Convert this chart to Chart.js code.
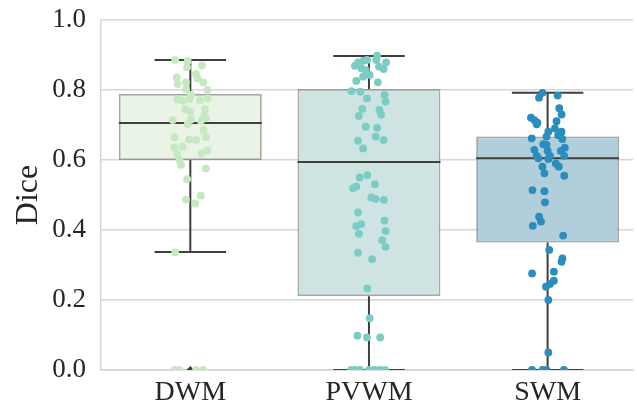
<!DOCTYPE html>
<html>
<head>
<meta charset="utf-8">
<script src="https://cdn.jsdelivr.net/npm/chart.js@4/dist/chart.umd.min.js"></script>
<style>
  html, body { margin: 0; padding: 0; background: #ffffff; }
  #wrap { width: 637px; height: 408px; }
</style>
</head>
<body>
<div id="wrap"><canvas id="chart" width="637" height="408"></canvas></div>
<script>
// Groups on the x axis
const categories = ['DWM', 'PVWM', 'SWM'];

// Box statistics per group
const q1Values      = [0.600, 0.211, 0.364];
const medianValues  = [0.706, 0.594, 0.605];
const q3Values      = [0.789, 0.803, 0.667];
const whiskerLow    = [0.337, 0.000, 0.000];
const whiskerHigh   = [0.886, 0.897, 0.792];

// Values shown below the lower whisker
const outlierValues = [[0.0], [], []];

// Individual Dice scores per group, with their horizontal jitter (in group widths)
const dwmScores = [0.886, 0.883, 0.865, 0.870, 0.836, 0.817, 0.822, 0.846, 0.833, 0.822,
  0.802, 0.800, 0.786, 0.773, 0.769, 0.773, 0.771, 0.776, 0.745, 0.738,
  0.745, 0.726, 0.714, 0.716, 0.703, 0.712, 0.719, 0.686, 0.665, 0.659,
  0.657, 0.665, 0.636, 0.638, 0.617, 0.619, 0.627, 0.600, 0.586, 0.576,
  0.545, 0.498, 0.487, 0.476, 0.336, 0.0, 0.0, 0.0, 0.0];
const dwmJitter = [-0.085, -0.015, -0.018, 0.065, -0.076, -0.071, -0.024, 0.032, 0.041, 0.072,
  -0.024, 0.096, 0.004, -0.071, -0.043, -0.006, 0.054, 0.096, -0.029, 0.000,
  0.082, 0.078, -0.098, 0.004, -0.015, 0.059, 0.087, 0.074, -0.089, -0.006,
  0.033, 0.087, -0.089, -0.043, -0.074, 0.063, 0.096, -0.061, -0.052, 0.087,
  -0.018, 0.059, -0.024, 0.028, -0.085, -0.089, -0.061, 0.032, 0.072];

const pvwmScores = [0.898, 0.879, 0.883, 0.886, 0.869, 0.862, 0.857, 0.843, 0.867, 0.860,
  0.879, 0.886, 0.838, 0.826, 0.822, 0.797, 0.795, 0.776, 0.786, 0.767,
  0.746, 0.743, 0.726, 0.730, 0.695, 0.692, 0.667, 0.657, 0.655, 0.633,
  0.550, 0.557, 0.519, 0.524, 0.531, 0.493, 0.489, 0.486, 0.450, 0.427,
  0.411, 0.417, 0.389, 0.397, 0.371, 0.352, 0.335, 0.317, 0.233, 0.148,
  0.098, 0.093, 0.093, 0.0, 0.0, 0.0, 0.0, 0.0, 0.0, 0.0];
const pvwmJitter = [0.046, -0.061, -0.033, -0.011, -0.079, -0.043, -0.018, 0.004, 0.056, 0.082,
  0.096, 0.041, -0.033, -0.071, 0.050, -0.098, -0.048, -0.011, 0.087, 0.093,
  -0.037, 0.059, -0.057, 0.068, -0.018, 0.046, 0.037, 0.082, -0.061, -0.033,
  -0.052, -0.009, -0.089, -0.071, 0.033, 0.013, 0.037, 0.083, -0.061, 0.087,
  -0.071, -0.043, -0.056, 0.093, 0.074, 0.093, -0.061, 0.018, -0.009, 0.004,
  -0.065, -0.011, 0.063, -0.100, -0.078, -0.050, 0.000, 0.030, 0.060, 0.090];

const swmScores = [0.792, 0.778, 0.784, 0.748, 0.730, 0.721, 0.714, 0.707, 0.702, 0.711,
  0.690, 0.681, 0.671, 0.681, 0.667, 0.662, 0.660, 0.645, 0.643, 0.635,
  0.629, 0.626, 0.626, 0.612, 0.612, 0.612, 0.605, 0.603, 0.590, 0.581,
  0.581, 0.562, 0.555, 0.514, 0.511, 0.479, 0.438, 0.424, 0.412, 0.384,
  0.343, 0.319, 0.309, 0.276, 0.281, 0.255, 0.246, 0.238, 0.200, 0.050,
  0.0, 0.0, 0.0, 0.0];
const swmJitter = [-0.029, -0.048, 0.056, 0.065, 0.078, -0.093, -0.074, -0.057, -0.061, 0.050,
  0.041, 0.004, 0.059, 0.078, -0.006, -0.089, 0.082, -0.024, -0.006, 0.096,
  -0.074, 0.000, 0.074, -0.061, 0.013, 0.093, -0.052, 0.004, 0.046, 0.063,
  -0.029, -0.018, 0.093, -0.085, -0.018, -0.015, -0.048, -0.037, -0.083, 0.087,
  0.009, 0.083, 0.078, -0.087, 0.035, 0.035, 0.013, -0.009, 0.004, 0.004,
  -0.087, -0.028, -0.006, 0.091];

const groupScores = [dwmScores, pvwmScores, swmScores];
const groupJitter = [dwmJitter, pvwmJitter, swmJitter];

// Y axis ticks
const yTicks = [0.0, 0.2, 0.4, 0.6, 0.8, 1.0];

// Styling
const pointColors = ['rgb(199,233,193)', 'rgb(123,204,196)', 'rgb(43,140,190)'];
const boxFills    = ['rgb(233,243,230)', 'rgb(206,228,227)', 'rgb(177,206,219)'];
const boxEdge     = 'rgba(120,120,120,0.65)';
const lineColor   = '#3f3f3f';
const textColor   = '#262626';
const gridColor   = '#d6d6d6';
const capHalf     = 0.2;   // half width of whisker caps, in group widths
const medianHalf  = 0.4;   // half width of the box, in group widths

// Segment lists (null points break the line between segments)
const whiskerPts = [];
const capPts = [];
const medianPts = [];
categories.forEach((_, i) => {
  whiskerPts.push({x: i, y: q3Values[i]}, {x: i, y: whiskerHigh[i]}, {x: i, y: null});
  whiskerPts.push({x: i, y: q1Values[i]}, {x: i, y: whiskerLow[i]}, {x: i, y: null});
  capPts.push({x: i - capHalf, y: whiskerHigh[i]}, {x: i + capHalf, y: whiskerHigh[i]}, {x: i, y: null});
  capPts.push({x: i - capHalf, y: whiskerLow[i]}, {x: i + capHalf, y: whiskerLow[i]}, {x: i, y: null});
  medianPts.push({x: i - medianHalf, y: medianValues[i]}, {x: i + medianHalf, y: medianValues[i]}, {x: i, y: null});
});

const outlierPts = [];
outlierValues.forEach((vals, i) => vals.forEach(v => outlierPts.push({x: i, y: v})));

const stripDatasets = groupScores.map((scores, i) => ({
  type: 'scatter',
  label: categories[i],
  data: scores.map((v, k) => ({x: i + groupJitter[i][k], y: v})),
  backgroundColor: pointColors[i],
  borderWidth: 0,
  pointRadius: 3.9,
  pointHoverRadius: 3.9,
  clip: 0,
  order: 0
}));

const lineBase = {
  type: 'line',
  borderColor: lineColor,
  borderWidth: 2,
  pointRadius: 0,
  pointHoverRadius: 0,
  fill: false,
  spanGaps: false,
  tension: 0,
  clip: 0,
  order: 2
};

Chart.defaults.font.family = "'Liberation Serif', 'DejaVu Serif', 'Times New Roman', serif";
Chart.defaults.color = textColor;

new Chart(document.getElementById('chart'), {
  type: 'bar',
  data: {
    datasets: [
      {
        type: 'bar',
        label: 'IQR',
        data: categories.map((_, i) => ({x: i, y: [q1Values[i], q3Values[i]]})),
        backgroundColor: boxFills,
        borderColor: boxEdge,
        borderWidth: 1.8,
        borderSkipped: false,
        barPercentage: 0.8,
        categoryPercentage: 1.0,
        order: 3
      },
      Object.assign({label: 'whiskers', data: whiskerPts}, lineBase),
      Object.assign({label: 'caps', data: capPts}, lineBase),
      Object.assign({label: 'medians', data: medianPts}, lineBase),
      {
        type: 'scatter',
        label: 'outliers',
        data: outlierPts,
        pointStyle: 'rectRot',
        pointRadius: 4,
        backgroundColor: lineColor,
        borderWidth: 0,
        clip: 0,
        order: 1
      },
      ...stripDatasets
    ]
  },
  options: {
    responsive: false,
    animation: false,
    events: [],
    layout: { padding: { top: 20, right: 0, bottom: 0, left: 0 } },
    plugins: {
      legend: { display: false },
      tooltip: { enabled: false }
    },
    scales: {
      x: {
        type: 'linear',
        min: -0.5,
        max: 2.478,
        offset: false,
        grid: { display: false, drawTicks: false },
        border: { display: true, color: gridColor, width: 1.5 },
        afterBuildTicks: (axis) => { axis.ticks = categories.map((_, i) => ({value: i})); },
        afterFit: (axis) => { axis.height = 38; axis.paddingLeft = 0; axis.paddingRight = 0; },
        ticks: {
          autoSkip: false,
          maxRotation: 0,
          padding: 6,
          font: { size: 28 },
          color: textColor,
          callback: (v) => categories[v] ?? ''
        }
      },
      y: {
        type: 'linear',
        min: 0,
        max: 1,
        grid: { color: gridColor, lineWidth: 1.5, drawTicks: false },
        border: { display: true, color: gridColor, width: 1.5 },
        afterBuildTicks: (axis) => { axis.ticks = yTicks.map(v => ({value: v})); },
        afterFit: (axis) => { axis.width = 101; axis.paddingTop = 0; axis.paddingBottom = 0; },
        ticks: {
          padding: 15,
          font: { size: 27 },
          color: textColor,
          callback: (v) => Number(v).toFixed(1)
        },
        title: {
          display: true,
          text: 'Dice',
          font: { size: 32 },
          color: textColor,
          padding: { top: 9, bottom: 0 }
        }
      }
    }
  }
});
</script>
</body>
</html>
